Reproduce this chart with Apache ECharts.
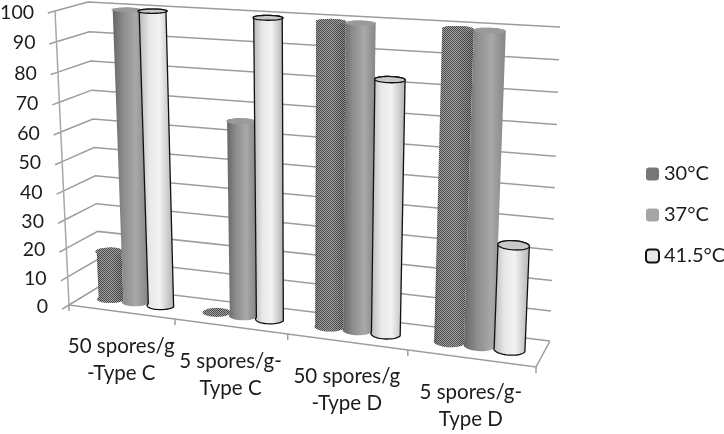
<!DOCTYPE html>
<html><head><meta charset="utf-8">
<script src="https://cdn.jsdelivr.net/npm/echarts@6/dist/echarts.min.js"></script>
<style>html,body{margin:0;padding:0;background:#fff}#c{width:724px;height:434px}</style>
</head><body><div id="c"></div>
<script>
const categories = ['50 spores/g\n-Type C','5 spores/g-\nType C','50 spores/g\n-Type D','5 spores/g-\nType D'];
const yTicks = [0,10,20,30,40,50,60,70,80,90,100];
const s30 = [17,0,100,100];
const s37 = [100,66,100,100];
const s415 = [100,100,83,34];

// 3D frame layout (front-left, front-right, back-right, back-left)
const FLOOR = [[69,305],[536,367],[550,341],[100,286]];
const TOP   = [[55,11],[555,42],[560,27],[88,2]];
const DEPTH = 0.5, DR = 0.2, BAR = 0.24, K = 1.05, WARP = 1.135;
const FONT = '19.5px Lato', CATFONT = '20.5px Lato';
const GRID = '#9c9c9c';

function bilinear(q){
  const [a,b,c,d]=q;
  return (u,v)=>{
    const w=u/(u+(1-u)*WARP);
    const fx=a[0]+(b[0]-a[0])*w, fy=a[1]+(b[1]-a[1])*w;
    const bx=d[0]+(c[0]-d[0])*w, by=d[1]+(c[1]-d[1])*w;
    return [fx+(bx-fx)*v,fy+(by-fy)*v];
  };
}
const Hf=bilinear(FLOOR), Ht=bilinear(TOP);
function proj3(u,d,t){
  const a=Hf(u,d),b=Ht(u,d),f=t/(t+(1-t)*K);
  return [a[0]+(b[0]-a[0])*f,a[1]+(b[1]-a[1])*f];
}
// Library scales -> normalised (u, t) -> projected
function uvt(params,api,cat,val,off){
  const cs=params.coordSys,p=api.coord([cat,val]),band=api.size([1,0])[0];
  return {u:(p[0]-cs.x+(off||0)*band)/cs.width,t:(cs.y+cs.height-p[1])/cs.height,bu:band/cs.width};
}
function line(points,color,w){
  return {type:'polyline',silent:true,shape:{points},style:{stroke:color,lineWidth:w,fill:null}};
}
function makePattern(fn,n){
  const c=document.createElement('canvas');c.width=c.height=n;
  const x=c.getContext('2d');
  for(let i=0;i<n;i++)for(let j=0;j<n;j++){x.fillStyle=fn(i,j);x.fillRect(i,j,1,1);}
  return {image:c,repeat:'repeat'};
}
const darkPat = makePattern((i,j)=>((i+j)%2===0?'rgba(25,25,25,0.52)':'rgba(255,255,255,0.26)'),2);
const darkSolid = makePattern((i,j)=>((i+j)%2===0?'#4a4a4a':'#a2a2a2'),2);
const whitePat = makePattern((i,j)=>((i+j)%2===0?'rgba(150,150,150,0.12)':'rgba(255,255,255,0)'),2);
const whiteLegend = makePattern((i,j)=>((i+j)%2===0?'#d8d8d8':'#f6f6f6'),2);

const looks = [
 {off:-1, grad:[[0,'#5a5a5a'],[0.12,'#7d7d7d'],[0.55,'#8a8a8a'],[1,'#5e5e5e']], overlay:darkPat, top:darkSolid, stroke:null},
 {off:0,  grad:[[0,'#666666'],[0.3,'#8c8c8c'],[0.65,'#a8a8a8'],[1,'#858585']], overlay:null, top:'#9a9a9a', stroke:null},
 {off:1,  grad:[[0,'#bcbcbc'],[0.3,'#eeeeee'],[0.6,'#f8f8f8'],[1,'#b4b4b4']], overlay:whitePat, top:'#c9c9c9', stroke:'#111111'}
];

function cylinder(look){
  return function(params,api){
    const cat=api.value(0),val=api.value(1);
    const b=uvt(params,api,cat,0,look.off*BAR), T=uvt(params,api,cat,val,look.off*BAR);
    const r=BAR/2*b.bu, N=24, bot=[], topBack=[], ell=[];
    for(let i=0;i<=N;i++){
      const th=Math.PI*i/N;
      bot.push(proj3(b.u-r*Math.cos(th),DEPTH-DR*Math.sin(th),0));
      topBack.push(proj3(b.u+r*Math.cos(th),DEPTH+DR*Math.sin(th),T.t));
    }
    for(let i=0;i<2*N;i++){
      const th=Math.PI*i/N;
      ell.push(proj3(b.u+r*Math.cos(th),DEPTH+DR*Math.sin(th),T.t));
    }
    const body=bot.concat(topBack);
    const kids=[];
    if(val>0){
      kids.push({type:'polygon',shape:{points:body},
        style:{fill:{type:'linear',x:0,y:0,x2:1,y2:0,colorStops:look.grad.map(g=>({offset:g[0],color:g[1]}))}}});
      if(look.overlay) kids.push({type:'polygon',shape:{points:body},style:{fill:look.overlay}});
      if(look.stroke) kids.push({type:'polygon',shape:{points:body},style:{fill:null,stroke:look.stroke,lineWidth:1.3}});
    }
    kids.push({type:'polygon',shape:{points:ell},style:{fill:look.top,stroke:look.stroke||null,lineWidth:look.stroke?1.3:0}});
    return {type:'group',children:kids};
  };
}

function wallItem(params,api){
  const t=uvt(params,api,0,api.value(0)).t;
  const a=proj3(0,0,t),b=proj3(0,1,t),c=proj3(1,1,t);
  const tick=[a[0]-(b[0]-a[0])*0.22,a[1]-(b[1]-a[1])*0.22];
  return {type:'group',children:[
    line([a,b,c],GRID,1.5),
    line([a,tick],GRID,1.5),
    {type:'text',silent:true,style:{text:String(api.value(0)),x:a[0]-21,y:a[1]+1.5,align:'right',verticalAlign:'middle',font:FONT,fill:'#1c1c1c'}}
  ]};
}
function axisItem(params,api){
  const i=api.value(0), q=uvt(params,api,i,0,-0.5), u=q.u, step=q.bu;
  const p=proj3(u,0,0), mid=proj3(u+step/2,0,0), kids=[];
  kids.push(line([[p[0],p[1]],[p[0],p[1]+6]],GRID,1.5));
  if(i===categories.length-1){
    const e=proj3(1,0,0);
    kids.push(line([[e[0],e[1]],[e[0],e[1]+6]],GRID,1.5));
    kids.push(line([proj3(0,0,0),e,proj3(1,1,0)],GRID,1.5));
    kids.push(line([proj3(0,0,0),proj3(0,0,1)],'#a8a8a8',1.5));
  }
  kids.push({type:'text',silent:true,style:{text:categories[i],x:mid[0],y:mid[1]+48,align:'center',verticalAlign:'middle',font:CATFONT,lineHeight:27,fill:'#1c1c1c'}});
  return {type:'group',children:kids};
}
function pts(arr){return arr.map((v,i)=>[i,v]);}

const chart=echarts.init(document.getElementById('c'),null,{renderer:'canvas'});
chart.setOption({
  animation:false,
  backgroundColor:'#ffffff',
  textStyle:{fontFamily:'Lato'},
  grid:{left:69,right:188,top:11,bottom:129,containLabel:false},
  xAxis:{type:'category',data:categories,show:false},
  yAxis:{type:'value',min:0,max:100,interval:10,show:false},
  legend:{orient:'vertical',left:645,top:164,padding:0,itemWidth:13,itemHeight:13,itemGap:21,
    data:['30°C','37°C','41.5°C'],textStyle:{fontSize:20,fontFamily:'Lato',color:'#1c1c1c'},selectedMode:false},
  series:[
    {type:'custom',name:'walls',silent:true,coordinateSystem:'cartesian2d',data:yTicks.map(v=>[v]),encode:{y:0},renderItem:wallItem},
    {type:'custom',name:'axis',silent:true,coordinateSystem:'cartesian2d',data:categories.map((c,i)=>[i]),encode:{x:0},renderItem:axisItem},
    {type:'custom',name:'30°C',coordinateSystem:'cartesian2d',data:pts(s30),encode:{x:0,y:1},itemStyle:{color:darkSolid},renderItem:cylinder(looks[0])},
    {type:'custom',name:'37°C',coordinateSystem:'cartesian2d',data:pts(s37),encode:{x:0,y:1},itemStyle:{color:'#a6a6a6'},renderItem:cylinder(looks[1])},
    {type:'custom',name:'41.5°C',coordinateSystem:'cartesian2d',data:pts(s415),encode:{x:0,y:1},itemStyle:{color:whiteLegend,borderColor:'#111111',borderWidth:1.3},renderItem:cylinder(looks[2])}
  ]
});
</script></body></html>
